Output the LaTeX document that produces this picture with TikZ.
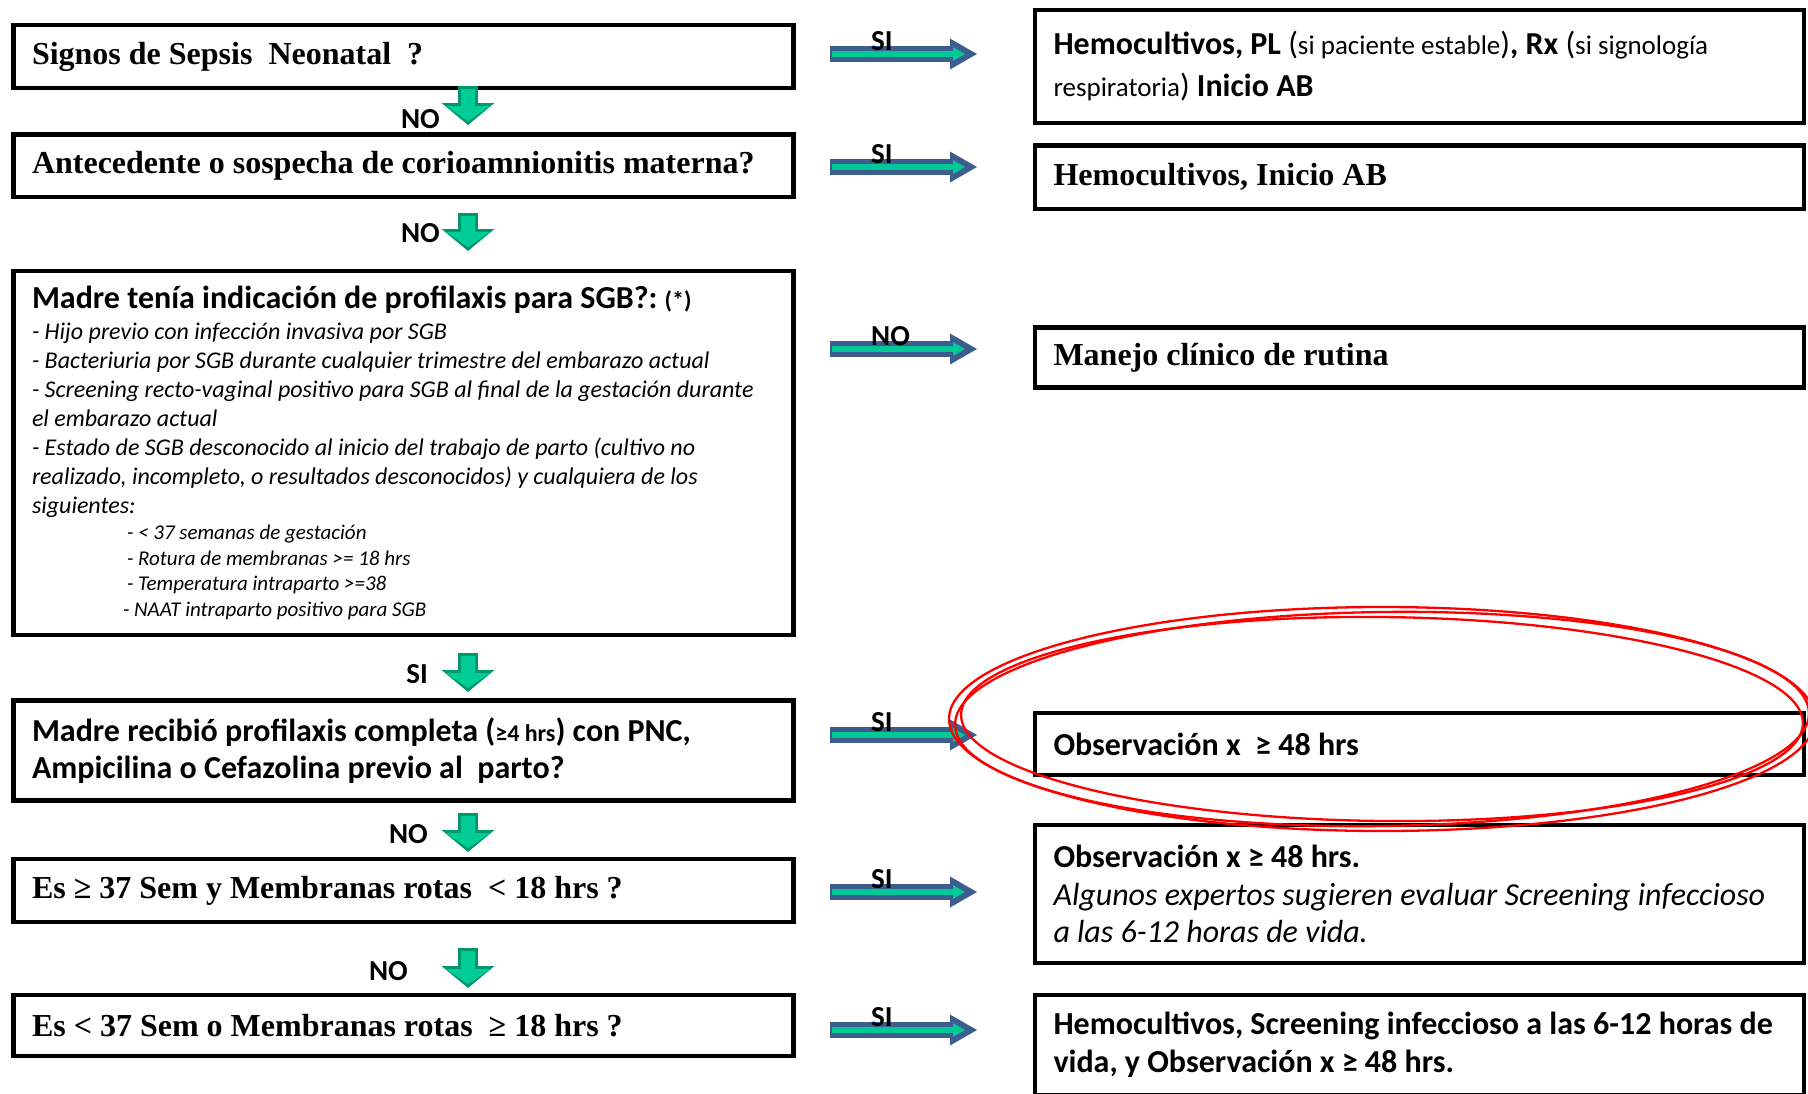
\documentclass[tikz,border=0pt]{standalone}
\usepackage{fontspec}
\setmainfont{Carlito}
\newfontfamily\tnr{Liberation Serif}
\usepackage{tikz}
\usetikzlibrary{positioning,arrows.meta,calc}
\definecolor{arblue}{RGB}{59,94,143}
\definecolor{argreen}{RGB}{0,200,150}
\definecolor{dkgreen}{RGB}{0,150,110}
\definecolor{ltgreen}{RGB}{0,204,150}
\setlength{\parindent}{0pt}
\frenchspacing
% size switches with plain word spaces
\newcommand{\calsize}[2]{\fontsize{#1}{#2}\selectfont\spaceskip=.226em\relax}
\newcommand{\tnrsize}[2]{\fontsize{#1}{#2}\selectfont\spaceskip=.25em\relax}

\begin{document}
\begin{tikzpicture}[
    x=1pt, y=-1pt,
    box/.style={draw, line width=4.2pt, anchor=north west, outer sep=0pt,
                inner xsep=18.5pt, inner ysep=0pt, align=left},
    lbox/.style={box, minimum width=780pt, text width=743pt},
    rbox/.style={box, minimum width=769pt, text width=732pt},
    serif/.style={font=\tnr\bfseries\tnrsize{32}{38},
                  execute at begin node={\spaceskip=.25em\relax}},
    cal/.style={font=\calsize{32}{37},
                execute at begin node={\spaceskip=.226em\relax}},
    calb/.style={cal, font=\bfseries\calsize{32}{37}},
    lbl/.style={font=\bfseries\calsize{29}{34}, inner sep=0pt},
    sidearrow/.style={draw=arblue, line width=16pt,
        -{Triangle[length=27pt, width=31pt, line width=0pt]},
        shorten <=36.5pt, shorten >=58pt,
        postaction={draw=argreen, line width=6pt,
            -{Triangle[length=12pt, width=14pt, line width=0pt]},
            shorten <=38.5pt, shorten >=70pt}},
    downarrow/.style 2 args={draw=dkgreen, line width=20pt,
        -{Triangle[length=22pt, width=53pt, line width=0pt]},
        shorten <=#1, shorten >=#2,
        postaction={draw=ltgreen, line width=14pt,
            -{Triangle[length=15pt, width=44pt, line width=0pt]},
            shorten <=#1+3pt, shorten >=#2+4pt}},
    ring/.style={draw=red, line width=2.3pt}
]
\useasboundingbox (0,0) rectangle (1808,1093);

% Questions (left column)
\node[lbox, serif, minimum height=63pt] (b1) at (13.5,25) {Signos de Sepsis\ \ Neonatal\ \ ?};
\node[lbox, serif, minimum height=62.5pt] (b2) at (13.5,134.5) {Antecedente o sospecha de corioamnionitis materna?};
\node[lbox, cal, minimum height=364pt] (b3) at (13.5,271) {%
{\bfseries Madre tenía indicación de profilaxis para SGB?: {\calsize{24}{29}(*)}\par}
\vspace{2pt}
{\calsize{24}{29}\itshape - Hijo previo con infección invasiva por SGB\\
- Bacteriuria por SGB durante cualquier trimestre del embarazo actual\\
- Screening recto-vaginal positivo para SGB al final de la gestación durante\\
el embarazo actual\\
- Estado de SGB desconocido al inicio del trabajo de parto (cultivo no\\
realizado, incompleto, o resultados desconocidos) y cualquiera de los\\
siguientes:\par}
{\calsize{21}{25.7}\itshape\leftskip=95pt - < 37 semanas de gestación\\
- Rotura de membranas >= 18 hrs\\
- Temperatura intraparto >=38\\
\hspace*{-4pt}- NAAT intraparto positivo para SGB\par}
\vspace{-6pt}};
\node[lbox, calb, minimum height=100pt] (b4) at (13.5,700.5) {Madre recibió profilaxis completa ({\calsize{24}{29}≥4 hrs}) con PNC,\\
Ampicilina o Cefazolina previo al\ \ parto?};
\node[lbox, serif, minimum height=63pt] (b5) at (13.5,859) {Es ≥ 37 Sem y Membranas rotas\ \ < 18 hrs ?};
\node[lbox, serif, minimum height=61pt] (b6) at (13.5,995) {Es < 37 Sem o Membranas rotas\ \ ≥ 18 hrs ?};

% Actions (right column)
\node[rbox, cal, font=\calsize{32}{42}, minimum height=113pt] (r1) at (1035,10) {{\bfseries Hemocultivos, PL} ({\calsize{27}{30}si paciente estable}){\bfseries, Rx} ({\calsize{27}{30}si signología}\\
{\calsize{27}{30}respiratoria}) {\bfseries Inicio AB}};
\node[rbox, serif, minimum height=63.5pt] (r2) at (1035,145.5) {Hemocultivos, Inicio AB};
\node[rbox, serif, minimum height=60pt] (r3) at (1035,327.5) {Manejo clínico de rutina};
\node[rbox, calb, minimum height=62pt] (r4) at (1035,713) {Observación x\ \ ≥ 48 hrs};
\node[rbox, cal, font=\calsize{32}{37.5}, minimum height=138pt] (r5) at (1035,825) {{\bfseries Observación x ≥ 48 hrs.}\\
{\itshape Algunos expertos sugieren evaluar Screening infeccioso\\
a las 6-12 horas de vida.}};
\node[rbox, cal, font=\bfseries\calsize{32}{38}, minimum height=100pt] (r6) at (1035,995) {Hemocultivos, Screening infeccioso a las 6-12 horas de\\
vida, y Observación x ≥ 48 hrs.};

% NO / SI going down
\coordinate (dx) at (468,0);
\foreach \a/\b/\s/\e in {1/2/-2/9.5, 2/3/16/20, 3/4/18/8.5, 4/5/12.5/7, 5/6/26/7}{
  \draw[downarrow={\s pt}{\e pt}] (b\a.south -| dx) -- (b\b.north -| dx);
}
\node[lbl, anchor=base east] (n1) at (440,128) {NO};
\node[lbl, anchor=base east] (n2) at (440,242) {NO};
\node[lbl, anchor=base east] (n3) at (428,683) {SI};
\node[lbl, anchor=base east] (n4) at (428,843) {NO};
\node[lbl, anchor=base east] (n5) at (408,980) {NO};

% SI / NO going right
\foreach \i/\dy/\t in {1/2.5/SI, 2/-1.25/SI, 3/104/NO, 4/15.5/SI, 5/-1.5/SI, 6/-4.5/SI}{
  \coordinate (s\i) at ([yshift=\dy pt]b\i.east);
  \draw[sidearrow] (s\i) -- (s\i -| r\i.west);
  \node[lbl, anchor=base west] (t\i) at ([xshift=77.5pt, yshift=4pt]s\i) {\t};
}

% highlight
\draw[ring] (1382,719) ellipse [x radius=433, y radius=112];
\draw[ring, rotate around={0.8:(1382,719)}] (1382,719) ellipse [x radius=427, y radius=107];
\draw[ring, rotate around={-0.6:(1382,719)}] (1382,719) ellipse [x radius=421, y radius=102];

\end{tikzpicture}
\end{document}
